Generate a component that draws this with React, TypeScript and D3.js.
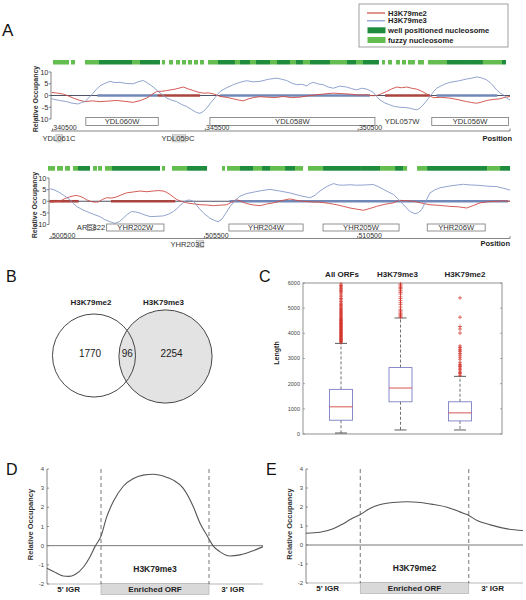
import React from 'react';
import * as d3 from 'd3';

const FONT = 'Liberation Sans, Arial, Helvetica, sans-serif';
const RED = '#cf4a43';
const BLUE = '#8498c8';
const WELL = '#1f8b3d';
const FUZZY = '#63bd4f';

// ---------------- Panel A : locus 1 (chr IV) ----------------
const locus1Me3: [number, number][] = [[340470,-1.4],[340720,-2.1],[340960,-2.6],[341150,-3.3],[341340,-3.6],[341450,-3.0],[341560,-2.6],[341670,-1.2],[341780,0.3],[341920,2.4],[342050,4.1],[342220,5.2],[342380,6.0],[342540,5.5],[342710,5.6],[342920,5.1],[343140,5.0],[343300,5.8],[343470,6.4],[343610,5.3],[343745,4.1],[343850,3.0],[343960,1.7],[344100,0.2],[344240,-1.1],[344400,-2.0],[344560,-2.6],[344720,-3.8],[344890,-4.7],[345050,-6.0],[345220,-7.3],[345325,-7.6],[345430,-6.8],[345545,-5.4],[345680,-3.0],[345820,-0.9],[345980,1.7],[346200,3.3],[346415,4.6],[346630,5.6],[346850,6.3],[347070,5.8],[347290,6.0],[347560,6.9],[347835,7.4],[348000,6.9],[348160,6.4],[348320,5.3],[348490,4.6],[348650,4.8],[348820,4.1],[348930,5.1],[349030,5.6],[349200,4.9],[349360,4.6],[349520,3.6],[349690,3.1],[349900,4.0],[350125,3.6],[350290,2.9],[350450,2.4],[350620,3.1],[350780,2.7],[350900,2.0],[351000,1.3],[351100,-0.3],[351215,-1.9],[351380,-3.2],[351540,-4.0],[351700,-4.7],[351870,-5.0],[352030,-5.1],[352200,-5.4],[352300,-5.8],[352420,-6.1],[352530,-5.3],[352630,-4.0],[352740,-2.2],[352850,-0.4],[352960,1.5],[353070,3.1],[353290,4.6],[353500,5.6],[353780,6.2],[354050,7.0],[354220,7.4],[354380,7.9],[354540,7.5],[354700,6.7],[354870,4.9],[355030,2.4],[355140,1.1],[355250,0.3],[355360,-1.0],[355470,-1.9]];
const locus1Me2: [number, number][] = [[340470,1.3],[340660,1.0],[340850,0.6],[341020,-0.2],[341180,-1.1],[341370,-2.0],[341560,-2.6],[341800,-2.3],[342050,-2.6],[342320,-2.4],[342600,-2.1],[342870,-2.5],[343140,-2.9],[343360,-2.2],[343580,-1.1],[343750,0.4],[343910,1.7],[344070,1.8],[344240,2.1],[344510,2.7],[344780,3.6],[344940,2.8],[345110,2.1],[345270,1.4],[345430,1.0],[345600,1.1],[345760,0.7],[345870,0.2],[345980,-0.4],[346200,-0.8],[346415,-1.4],[346580,-1.9],[346740,-2.3],[346900,-1.5],[347070,-0.9],[347290,-0.5],[347510,-0.7],[347780,-0.9],[348050,-0.4],[348320,-0.9],[348600,-0.7],[348870,-0.1],[349140,0.3],[349410,0.7],[349690,1.0],[349960,0.8],[350230,0.6],[350500,0.2],[350780,0.3],[350950,-0.1],[351110,0],[351270,0.8],[351430,1.7],[351600,2.8],[351760,3.6],[351920,3.3],[352090,3.6],[352250,3.1],[352420,2.7],[352580,1.8],[352740,0.7],[352850,-0.2],[352960,-0.9],[353230,-0.8],[353500,-1.1],[353780,-1.8],[354050,-2.6],[354220,-3.0],[354380,-3.3],[354540,-2.8],[354710,-2.1],[354920,-1.7],[355140,-1.4],[355300,-0.8],[355470,-0.4]];
// nucleosomes: start, end, 1 = well positioned, 0 = fuzzy
const locus1Nuc: [number, number, number][] = [[340515,341039,0],[341104,341235,0],[341562,342021,0],[342021,342577,1],[342577,342708,1],[342708,343100,1],[343100,343362,0],[343362,344016,1],[344082,344180,0],[344311,344442,0],[344540,344671,0],[344736,344867,0],[344933,345064,0],[345129,345260,0],[345325,345456,0],[345587,345914,0],[345914,346470,1],[346470,346634,0],[346634,346961,1],[346961,347158,0],[347158,347616,1],[347616,347845,0],[347845,348270,1],[348270,348466,0],[348466,348695,1],[348695,348924,0],[348924,349579,1],[349579,350135,0],[350135,350430,1],[350430,350659,0],[350659,351182,1],[351280,351378,0],[351477,351608,0],[351738,351869,0],[351935,352066,0],[352131,352360,0],[352458,352654,0],[352785,353047,0],[353047,353407,0],[353407,354160,1],[354160,354585,1],[354585,355207,0],[355207,355338,1]];
const locus1GeneNames = ['YDL060W', 'YDL058W', 'YDL056W'];
const locus1GeneStart = [341590, 345650, 352910];
const locus1GeneEnd = [343960, 351050, 355420];
const locus1FreeNames = ['YDL057W'];
const locus1FreePos = [351940];
const locus1SmallBoxes: [number, number][] = [];
const locus1BelowNames = ['YDL061C', 'YDL059C'];
const locus1BelowPos = [340712, 344605];
const locus1BelowMarks: [number, number][] = [[340610, 340830], [344420, 344860]];
// enriched ORFs drawn on the zero line: start, end, mark (3 = me3, 2 = me2)
const locus1Enriched: [number, number, number][] = [[341970,343940,3],[343940,345330,2],[345990,350890,3],[351380,352850,2],[353070,355050,3]];
const locus1Ticks = [340500, 345500, 350500];

// ---------------- Panel A : locus 2 (chr VIII) ----------------
const locus2Me3: [number, number][] = [[500460,5.4],[500620,4.8],[500790,3.6],[500950,2.2],[501110,0.7],[501220,-0.9],[501330,-2.2],[501500,-3.5],[501660,-4.4],[501880,-5.6],[502090,-6.6],[502250,-7.9],[502420,-8.8],[502580,-9.5],[502720,-8.8],[502850,-7.3],[502990,-5.6],[503130,-4.4],[503260,-4.6],[503400,-5.1],[503560,-5.9],[503730,-6.6],[503940,-6.5],[504160,-6.3],[504320,-5.6],[504490,-4.4],[504600,-3.2],[504700,-1.9],[504810,-0.6],[504920,0.4],[505030,0.5],[505140,0],[505250,-1.8],[505360,-3.6],[505520,-5.6],[505680,-7.3],[505820,-8.2],[505950,-8.8],[506070,-7.7],[506200,-5.1],[506340,-2.2],[506500,0.3],[506660,2.2],[506880,3.3],[507100,3.9],[507370,4.6],[507640,5.1],[507960,4.4],[508290,3.6],[508620,2.4],[508950,1.5],[509110,2.6],[509270,4.4],[509490,6.3],[509710,7.6],[509870,7.0],[510030,6.9],[510250,7.1],[510470,6.9],[510740,7.0],[511010,7.2],[511170,6.3],[511340,5.1],[511500,4.0],[511670,2.9],[511800,1.2],[511940,-0.7],[512070,-2.6],[512210,-4.4],[512370,-5.4],[512480,-4.9],[512590,-3.6],[512730,0.2],[512860,3.6],[513020,4.9],[513190,5.8],[513570,6.7],[513950,7.3],[514170,7.0],[514390,6.9],[514710,6.5],[515040,6.3],[515250,5.6],[515470,4.8]];
const locus2Me2: [number, number][] = [[500460,-0.4],[500620,-0.2],[500790,0],[500950,1.2],[501110,1.9],[501220,2.3],[501330,2.5],[501440,2.1],[501550,1.5],[501660,0.6],[501770,0],[501900,-0.4],[502040,-0.3],[502180,0.8],[502310,1.5],[502480,1.4],[502640,1.9],[502800,2.8],[502960,3.6],[503180,4.0],[503400,4.4],[503620,4.1],[503830,4.4],[504000,4.6],[504160,4.4],[504270,3.8],[504380,2.9],[504490,1.8],[504600,0.7],[504760,-0.1],[504920,-0.7],[505140,-1.1],[505360,-1.5],[505570,-1.6],[505790,-1.9],[506010,-1.7],[506230,-1.5],[506390,-0.4],[506550,0.7],[506720,-0.2],[506880,-1.0],[507100,-1.6],[507310,-1.9],[507530,-1.2],[507750,-0.7],[508020,0.3],[508290,1.0],[508510,0.4],[508730,0],[509000,-0.3],[509270,-0.4],[509550,-0.9],[509820,-1.5],[510040,-2.2],[510250,-2.9],[510470,-3.4],[510690,-3.9],[510900,-3.1],[511120,-2.2],[511390,-1.3],[511660,-0.7],[511770,-0.1],[511880,0.4],[512100,0.2],[512320,0],[512590,-0.8],[512860,-1.5],[513190,-1.8],[513510,-2.2],[513790,-2.4],[514060,-2.9],[514280,-1.8],[514490,-0.7],[514760,-0.2],[515040,0],[515250,0.2],[515470,0]];
const locus2Nuc: [number, number, number][] = [[500397,500626,0],[500691,500887,0],[500952,501115,0],[501213,501376,0],[501376,501768,1],[501866,501996,0],[502029,502159,0],[502257,502486,0],[502486,502975,1],[502975,504052,1],[504117,504215,0],[504443,504933,0],[504933,505586,1],[506075,506173,0],[506238,506662,0],[506662,507087,1],[507087,507380,0],[507380,507641,1],[507641,508131,0],[508131,508457,1],[508457,508718,0],[508881,509371,0],[509371,510578,1],[510578,511231,1],[511231,511720,0],[511720,511981,1],[511981,512112,0],[512438,512764,0],[512764,514722,1],[514722,515146,0],[515146,515472,1]];
const locus2GeneNames = ['YHR202W', 'YHR204W', 'YHR205W', 'YHR206W'];
const locus2GeneStart = [502310, 506300, 509370, 512770];
const locus2GeneEnd = [504180, 508720, 511850, 514660];
const locus2FreeNames = ['ARS822'];
const locus2FreePos = [501800];
const locus2SmallBoxes: [number, number][] = [[501690, 501930]];
const locus2BelowNames = ['YHR203C'];
const locus2BelowPos = [504950];
const locus2BelowMarks: [number, number][] = [[505250, 505480]];
const locus2Enriched: [number, number, number][] = [[500450,501400,2],[502450,504550,2],[506320,515400,3]];
const locus2Ticks = [500500, 505500, 510500];

const occupancyTicks = [-10, -5, 0, 5, 10];

// ---------------- Legend ----------------
const legendLabels = ['H3K79me2', 'H3K79me3', 'well positioned nucleosome', 'fuzzy nucleosome'];
const legendKinds = ['line', 'line', 'rect', 'rect'];
const legendColors = [RED, BLUE, WELL, FUZZY];

// ---------------- Panel B : Venn ----------------
const vennSets = ['H3K79me2', 'H3K79me3'];
const vennOnly = [1770, 2254];
const vennShared = 96;

// ---------------- Panel C : box plot ----------------
const boxGroups = ['All ORFs', 'H3K79me3', 'H3K79me2'];
const boxQ1 = [547, 1280, 520];
const boxMedian = [1080, 1827, 840];
const boxQ3 = [1773, 2640, 1280];
const boxWhiskerLow = [40, 160, 160];
const boxWhiskerHigh = [3600, 4610, 2290];
const outliersAll = [3640,3680,3700,3730,3760,3790,3820,3850,3880,3910,3940,3970,4000,4030,4060,4090,4120,4150,4180,4210,4240,4270,4300,4330,4360,4390,4420,4450,4480,4510,4540,4570,4600,4640,4680,4720,4760,4800,4840,4880,4920,4960,5000,5050,5100,5150,5200,5260,5330,5380,5450,5520,5600,5650,5700,5760,5800,5850,5900,5960];
const outliersMe3 = [4640,4680,4720,4760,4800,4850,4900,4960,5050,5150,5220,5300,5380,5450,5560,5620,5680,5720,5780,5820,5870,5920,5960];
const outliersMe2 = [2330,2400,2440,2500,2570,2620,2680,2730,2770,2850,2970,3050,3130,3200,3270,3330,3370,3440,3500,4010,4170,4270,4640,5410];
const lengthTicks = [0, 1000, 2000, 3000, 4000, 5000, 6000];

// ---------------- Panels D / E : metagene profiles ----------------
// position: -50..0 = 5' IGR, 0..100 = enriched ORF, 100..150 = 3' IGR
const profileMe3: [number, number][] = [[-50,-1.18],[-44,-1.35],[-35,-1.58],[-30,-1.6],[-24,-1.5],[-16,-1.1],[-10,-0.57],[-5.6,-0.05],[0,0.5],[5.3,1.5],[11.4,2.3],[20.6,3.1],[30,3.5],[39,3.68],[48.5,3.73],[57.7,3.63],[67,3.42],[76,3.0],[85.5,2.03],[91.7,1.17],[98.8,0.47],[104,-0.02],[110,-0.31],[119.4,-0.54],[128.7,-0.48],[141,-0.26],[150,-0.05]];
const profileMe2: [number, number][] = [[-50,0.62],[-37,0.67],[-25,0.85],[-16,1.11],[-8,1.38],[0,1.6],[9.3,1.94],[18.5,2.13],[30.8,2.24],[43,2.28],[55.4,2.24],[67.7,2.13],[80,1.99],[92.3,1.73],[98.5,1.6],[107.7,1.29],[120,1.06],[135.4,0.85],[150,0.76]];
const profileTicks = [-2, -1, 0, 1, 2, 3, 4];
const regionNames = ["5' IGR", 'Enriched ORF', "3' IGR"];
const regionCenters = [-30, 50, 122];
const regionBounds = [0, 100];

function Locus(props: any) {
  const { cfg, me3, me2, nuc, geneNames, geneStart, geneEnd, freeNames, freePos, smallBoxes, belowNames, belowPos, belowMarks, enriched, ticks } = props;
  const x = d3.scaleLinear().domain(cfg.domain).range(cfg.xr);
  const y = d3.scaleLinear().domain([-10, 10]).range(cfg.yr);
  const line = d3.line<[number, number]>().x(d => x(d[0])).y(d => y(d[1]));
  const x0 = cfg.xr[0];
  const x1 = cfg.xr[1];
  return (
    <g>
      {nuc.map((n: [number, number, number], i: number) => (
        <rect key={'n' + i} x={x(n[0])} y={cfg.bandY} width={Math.max(0.5, x(n[1]) - x(n[0]))} height={cfg.bandH} fill={n[2] ? WELL : FUZZY} />
      ))}
      {/* y axis */}
      <line x1={x0} x2={x0} y1={y(10)} y2={y(-10)} stroke="#666" strokeWidth={0.8} />
      {occupancyTicks.map(t => (
        <g key={'t' + t}>
          <line x1={x0 - 2} x2={x0} y1={y(t)} y2={y(t)} stroke="#666" strokeWidth={0.8} />
          <text x={x0 - 2.5} y={y(t)} dy="0.35em" textAnchor="end" fontSize={7.5} fill="#333">{t}</text>
        </g>
      ))}
      <text transform={`translate(${cfg.labelX},${cfg.labelY}) rotate(-90)`} textAnchor="middle" fontSize={7} fontWeight="bold" fill="#333">Relative Occupancy</text>
      {/* zero line and enriched ORFs */}
      <line x1={x0} x2={x1} y1={y(0)} y2={y(0)} stroke="#3a3f55" strokeWidth={0.9} />
      {enriched.map((e: [number, number, number], i: number) => (
        <line key={'e' + i} x1={x(e[0])} x2={x(e[1])} y1={y(0)} y2={y(0)} stroke={e[2] === 3 ? '#7088b8' : '#a9443e'} strokeWidth={2.6} />
      ))}
      <path d={line(me2) || ''} fill="none" stroke={RED} strokeWidth={0.9} />
      <path d={line(me3) || ''} fill="none" stroke={BLUE} strokeWidth={0.9} />
      {/* genes */}
      {geneNames.map((g: string, i: number) => (
        <g key={'g' + g}>
          <rect x={x(geneStart[i])} y={cfg.geneY} width={x(geneEnd[i]) - x(geneStart[i])} height={cfg.geneH} fill="#fff" stroke="#777" strokeWidth={0.8} />
          <text x={(x(geneStart[i]) + x(geneEnd[i])) / 2} y={cfg.geneY + cfg.geneH - 1.3} textAnchor="middle" fontSize={7.6} fill="#333">{g}</text>
        </g>
      ))}
      {smallBoxes.map((b: [number, number], i: number) => (
        <rect key={'sb' + i} x={x(b[0])} y={cfg.geneY + 0.5} width={x(b[1]) - x(b[0])} height={cfg.geneH - 1} fill="none" stroke="#777" strokeWidth={0.7} />
      ))}
      {freeNames.map((g: string, i: number) => (
        <text key={'f' + g} x={x(freePos[i])} y={cfg.geneY + cfg.geneH - 1.3} textAnchor="middle" fontSize={7.6} fill="#333">{g}</text>
      ))}
      {/* position axis */}
      <line x1={x0} x2={x1} y1={cfg.axisY} y2={cfg.axisY} stroke="#666" strokeWidth={0.8} />
      <line x1={x1} x2={x1} y1={cfg.axisY - 2.5} y2={cfg.axisY} stroke="#666" strokeWidth={0.8} />
      {ticks.map((t: number) => (
        <g key={'p' + t}>
          <line x1={x(t)} x2={x(t)} y1={cfg.axisY - 2.5} y2={cfg.axisY} stroke="#666" strokeWidth={0.8} />
          <text x={x(t) + 0.8} y={cfg.axisY - 0.8} fontSize={7} fill="#333">{t}</text>
        </g>
      ))}
      {belowMarks.map((b: [number, number], i: number) => (
        <rect key={'bm' + i} x={x(b[0])} y={cfg.belowY - 6.3} width={x(b[1]) - x(b[0])} height={7.3} fill="#dcdcdc" stroke="#aaa" strokeWidth={0.5} />
      ))}
      {belowNames.map((g: string, i: number) => (
        <text key={'b' + g} x={x(belowPos[i])} y={cfg.belowY} textAnchor="middle" fontSize={7.6} fill="#333">{g}</text>
      ))}
      <text x={cfg.posX} y={cfg.belowY - 0.5} textAnchor="end" fontSize={7.5} fontWeight="bold" fill="#222">Position</text>
    </g>
  );
}

function Legend() {
  const rowY = [13, 20.8, 30.3, 40];
  return (
    <g>
      <rect x={359} y={4} width={149} height={43} fill="#fff" stroke="#888" strokeWidth={0.8} />
      {legendLabels.map((l, i) => (
        <g key={l}>
          {legendKinds[i] === 'line'
            ? <line x1={367} x2={385} y1={rowY[i]} y2={rowY[i]} stroke={legendColors[i]} strokeWidth={1.2} />
            : <rect x={367.5} y={rowY[i] - 3} width={18} height={6} fill={legendColors[i]} />}
          <text x={388} y={rowY[i] + 2.6} fontSize={7.6} fontWeight="bold" fill="#222">{l}</text>
        </g>
      ))}
    </g>
  );
}

function Venn() {
  const totals = [vennOnly[0] + vennShared, vennOnly[1] + vennShared];
  const r = d3.scaleSqrt().domain([0, d3.max(totals) as number]).range([0, 46.6]);
  const cx = d3.scalePoint().domain(vennSets).range([94, 165.5]);
  const cy = 355.5;
  const r0 = r(totals[0]);
  const r1 = r(totals[1]);
  const c0 = cx(vennSets[0]) as number;
  const c1 = cx(vennSets[1]) as number;
  return (
    <g>
      <circle cx={c0} cy={cy} r={r0} fill="#fff" />
      <circle cx={c1} cy={cy + 1} r={r1} fill="#e3e3e3" stroke="#333" strokeWidth={0.9} />
      <circle cx={c0} cy={cy} r={r0} fill="none" stroke="#333" strokeWidth={0.9} />
      <text x={c0 - 3} y={305} textAnchor="middle" fontSize={8} fontWeight="bold" fill="#222">{vennSets[0]}</text>
      <text x={c1 - 2} y={305} textAnchor="middle" fontSize={8} fontWeight="bold" fill="#222">{vennSets[1]}</text>
      <text x={c0 - 4} y={357} textAnchor="middle" fontSize={10} fill="#222">{vennOnly[0]}</text>
      <text x={(c0 + r0 + c1 - r1) / 2} y={357} textAnchor="middle" fontSize={10} fill="#222">{vennShared}</text>
      <text x={c1 + 6} y={357} textAnchor="middle" fontSize={10} fill="#222">{vennOnly[1]}</text>
    </g>
  );
}

function BoxPlot() {
  const left = 303, right = 502, top = 283, bottom = 434;
  const x = d3.scalePoint().domain(boxGroups).range([341, 460]);
  const y = d3.scaleLinear().domain([0, 6000]).range([bottom, top]);
  const bw = 23, cw = 12;
  const outliers = [outliersAll, outliersMe3, outliersMe2];
  return (
    <g>
      <rect x={left} y={top} width={right - left} height={bottom - top} fill="none" stroke="#777" strokeWidth={0.8} />
      {lengthTicks.map(t => (
        <g key={t}>
          <line x1={left} x2={left + 2} y1={y(t)} y2={y(t)} stroke="#777" strokeWidth={0.6} />
          <line x1={right - 2} x2={right} y1={y(t)} y2={y(t)} stroke="#777" strokeWidth={0.6} />
          <text x={left - 3} y={y(t)} dy="0.35em" textAnchor="end" fontSize={5.5} fill="#444">{t}</text>
        </g>
      ))}
      <text transform={`translate(279,353) rotate(-90)`} textAnchor="middle" fontSize={7} fontWeight="bold" fill="#222">Length</text>
      {boxGroups.map((g, i) => {
        const cx = x(g) as number;
        return (
          <g key={g}>
            <text x={cx + (i === 0 ? 1 : i === 1 ? -3 : 5)} y={277} textAnchor="middle" fontSize={8} fontWeight="bold" fill="#222">{g}</text>
            <line x1={cx} x2={cx} y1={y(boxQ3[i])} y2={y(boxWhiskerHigh[i])} stroke="#333" strokeWidth={0.7} strokeDasharray="3,2" />
            <line x1={cx} x2={cx} y1={y(boxQ1[i])} y2={y(boxWhiskerLow[i])} stroke="#333" strokeWidth={0.7} strokeDasharray="3,2" />
            <line x1={cx - cw / 2} x2={cx + cw / 2} y1={y(boxWhiskerHigh[i])} y2={y(boxWhiskerHigh[i])} stroke="#333" strokeWidth={0.8} />
            <line x1={cx - cw / 2} x2={cx + cw / 2} y1={y(boxWhiskerLow[i])} y2={y(boxWhiskerLow[i])} stroke="#333" strokeWidth={0.8} />
            <rect x={cx - bw / 2} y={y(boxQ3[i])} width={bw} height={y(boxQ1[i]) - y(boxQ3[i])} fill="none" stroke="#7d7fc4" strokeWidth={0.9} />
            <line x1={cx - bw / 2} x2={cx + bw / 2} y1={y(boxMedian[i])} y2={y(boxMedian[i])} stroke="#d0443c" strokeWidth={0.9} />
            {outliers[i].map((v, k) => (
              <g key={k} stroke="#d3312a" strokeWidth={0.7}>
                <line x1={cx - 2} x2={cx + 2} y1={y(v)} y2={y(v)} />
                <line x1={cx} x2={cx} y1={y(v) - 2} y2={y(v) + 2} />
              </g>
            ))}
          </g>
        );
      })}
    </g>
  );
}

function Profile(props: any) {
  const { data, xr, yr, name, labelX } = props;
  const x = d3.scaleLinear().domain([-50, 150]).range(xr);
  const y = d3.scaleLinear().domain([-2, 4]).range(yr);
  const line = d3.line<[number, number]>().x(d => x(d[0])).y(d => y(d[1])).curve(d3.curveMonotoneX);
  return (
    <g>
      <line x1={xr[0]} x2={xr[1]} y1={y(-2)} y2={y(-2)} stroke="#888" strokeWidth={0.6} />
      <rect x={x(regionBounds[0])} y={y(-2) - 0.5} width={x(regionBounds[1]) - x(regionBounds[0])} height={11} fill="#d9d9d9" stroke="#aaa" strokeWidth={0.6} />
      <line x1={xr[0]} x2={xr[0]} y1={y(4)} y2={y(-2)} stroke="#666" strokeWidth={0.8} />
      {profileTicks.map(t => (
        <g key={t}>
          <line x1={xr[0]} x2={xr[0] + 2} y1={y(t)} y2={y(t)} stroke="#666" strokeWidth={0.7} />
          <text x={xr[0] - 3} y={y(t)} dy="0.35em" textAnchor="end" fontSize={6} fill="#444">{t}</text>
        </g>
      ))}
      <text transform={`translate(${labelX},${(y(4) + y(-2)) / 2 - 2}) rotate(-90)`} textAnchor="middle" fontSize={7.5} fontWeight="bold" fill="#333">Relative Occupancy</text>
      <line x1={xr[0]} x2={xr[1]} y1={y(0)} y2={y(0)} stroke="#777" strokeWidth={1} />
      {regionBounds.map(b => (
        <line key={b} x1={x(b)} x2={x(b)} y1={y(4)} y2={y(-2)} stroke="#555" strokeWidth={0.8} strokeDasharray="4,3" />
      ))}
      <path d={line(data) || ''} fill="none" stroke="#555" strokeWidth={1.1} />
      <text x={x(50)} y={y(-1.35)} textAnchor="middle" fontSize={8.5} fontWeight="bold" fill="#222">{name}</text>
      {regionNames.map((r, i) => (
        <text key={r} x={x(regionCenters[i])} y={y(-2) + 8.3} textAnchor="middle" fontSize={8} fontWeight="bold" fill="#222">{r}</text>
      ))}
    </g>
  );
}

export default function App() {
  const cfg1 = { domain: [340450, 355470], xr: [51, 510], yr: [119, 72], bandY: 60, bandH: 4.5, geneY: 117.5, geneH: 8, axisY: 131, belowY: 141, labelX: 38, labelY: 99, posX: 512 };
  const cfg2 = { domain: [500430, 515470], xr: [49, 510], yr: [224.5, 178], bandY: 166, bandH: 4.7, geneY: 224, geneH: 7, axisY: 238.5, belowY: 246.5, labelX: 37, labelY: 205, posX: 510 };
  return (
    <svg width={526} height={600} style={{ position: 'absolute', left: 0, top: 0, background: '#fff' }} fontFamily={FONT}>
      <rect x={0} y={0} width={526} height={600} fill="#fff" />
      <text x={2} y={36} fontSize={17} fill="#111">A</text>
      <text x={6} y={282} fontSize={16} fill="#111">B</text>
      <text x={259} y={282} fontSize={16} fill="#111">C</text>
      <text x={6} y={475} fontSize={16} fill="#111">D</text>
      <text x={266} y={475} fontSize={16} fill="#111">E</text>
      <Legend />
      <Locus cfg={cfg1} me3={locus1Me3} me2={locus1Me2} nuc={locus1Nuc} geneNames={locus1GeneNames} geneStart={locus1GeneStart} geneEnd={locus1GeneEnd} freeNames={locus1FreeNames} freePos={locus1FreePos} smallBoxes={locus1SmallBoxes} belowNames={locus1BelowNames} belowPos={locus1BelowPos} belowMarks={locus1BelowMarks} enriched={locus1Enriched} ticks={locus1Ticks} />
      <Locus cfg={cfg2} me3={locus2Me3} me2={locus2Me2} nuc={locus2Nuc} geneNames={locus2GeneNames} geneStart={locus2GeneStart} geneEnd={locus2GeneEnd} freeNames={locus2FreeNames} freePos={locus2FreePos} smallBoxes={locus2SmallBoxes} belowNames={locus2BelowNames} belowPos={locus2BelowPos} belowMarks={locus2BelowMarks} enriched={locus2Enriched} ticks={locus2Ticks} />
      <Venn />
      <BoxPlot />
      <Profile data={profileMe3} xr={[47, 263]} yr={[584, 469]} name="H3K79me3" labelX={33} />
      <Profile data={profileMe2} xr={[306, 523]} yr={[583, 469]} name="H3K79me2" labelX={292} />
    </svg>
  );
}
